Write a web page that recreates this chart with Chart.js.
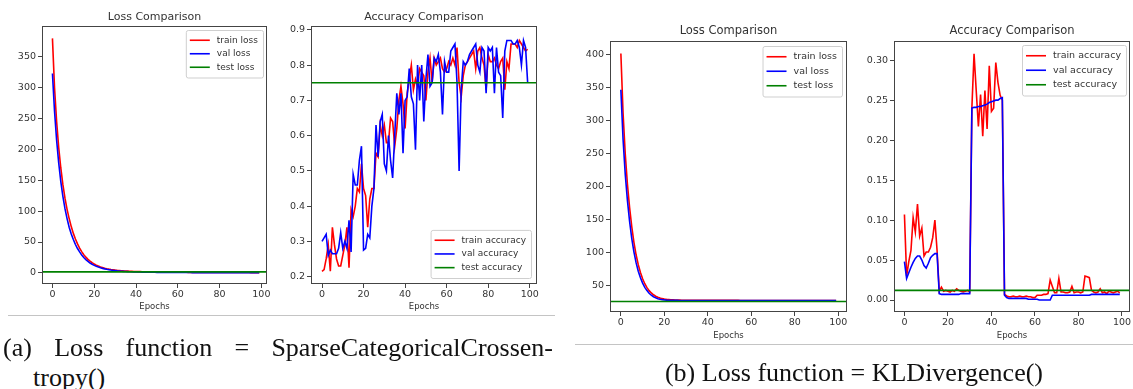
<!DOCTYPE html>
<html>
<head>
<meta charset="utf-8">
<script src="https://cdn.jsdelivr.net/npm/chart.js@4.4.1/dist/chart.umd.min.js"></script>
<style>
  body { margin: 0; background: #fff; width: 1133px; height: 389px; overflow: hidden; position: relative; }
  canvas { position: absolute; }
  .sep { position: absolute; height: 1px; background: #c4c4c4; }
  .cap { position: absolute; font: 26px "Liberation Serif", serif; color: #111; line-height: 30px; white-space: nowrap; }
</style>
</head>
<body>
<canvas id="aLoss" width="290" height="318" style="left:0px;top:0px"></canvas>
<canvas id="aAcc" width="275" height="318" style="left:290px;top:0px"></canvas>
<canvas id="bLoss" width="295" height="345" style="left:565px;top:0px"></canvas>
<canvas id="bAcc" width="273" height="345" style="left:860px;top:0px"></canvas>

<div class="sep" style="left:8px;top:315px;width:547px"></div>
<div class="sep" style="left:575px;top:344px;width:558px"></div>

<div class="cap" style="left:3px;top:333px;width:550px;text-align:justify;text-align-last:justify">(a) Loss function = SparseCategoricalCrossen-</div>
<div class="cap" style="left:33px;top:363px">tropy()</div>
<div class="cap" style="left:575px;top:358px;width:558px;text-align:center">(b) Loss function = KLDivergence()</div>

<script>
// tick values
var X_TICKS = [0, 20, 40, 60, 80, 100];
var A_LOSS_TICKS = [0, 50, 100, 150, 200, 250, 300, 350];
var A_ACC_TICKS = [0.2, 0.3, 0.4, 0.5, 0.6, 0.7, 0.8, 0.9];
var B_LOSS_TICKS = [50, 100, 150, 200, 250, 300, 350, 400];
var B_ACC_TICKS = [0.00, 0.05, 0.10, 0.15, 0.20, 0.25, 0.30];

// (a) SparseCategoricalCrossentropy
var A_TRAIN_LOSS = [380, 300, 245, 203, 170, 143, 121, 103, 88, 75,
    64, 55, 47, 40, 34.5, 29.5, 25.5, 22, 19, 16.5,
    14.3, 12.5, 11, 9.7, 8.6, 7.6, 6.8, 6.1, 5.5, 5.0,
    4.5, 4.1, 3.8, 3.5, 3.2, 3.0, 2.8, 2.6, 2.45, 2.3,
    2.2, 2.1, 2.0, 1.9, 1.8, 1.75, 1.7, 1.6, 1.55, 1.5,
    1.45, 1.4, 1.35, 1.3, 1.25, 1.2, 1.2, 1.15, 1.1, 1.1,
    1.05, 1.0, 1.0, 0.95, 0.95, 0.9, 0.9, 0.9, 0.85, 0.85,
    0.85, 0.8, 0.8, 0.8, 0.75, 0.75, 0.75, 0.7, 0.7, 0.7,
    0.7, 0.65, 0.65, 0.65, 0.65, 0.6, 0.6, 0.6, 0.6, 0.6,
    0.55, 0.55, 0.55, 0.55, 0.55, 0.5, 0.5, 0.5, 0.5, 0.5];
var A_VAL_LOSS = [323, 262, 215, 178, 148, 124, 104, 88, 74, 63,
    54, 46, 39.5, 34, 29, 25, 21.5, 18.6, 16, 14,
    12.2, 10.7, 9.4, 8.3, 7.3, 6.5, 5.8, 5.2, 4.6, 4.1,
    3.7, 3.3, 3.0, 2.7, 2.5, 2.3, 2.1, 1.95, 1.8, 1.65,
    1.55, 1.45, 1.35, 1.3, 1.2, 1.15, 1.1, 1.05, 1.0, 0.95,
    0.9, 0.9, 0.85, 0.8, 0.8, 0.75, 0.75, 0.7, 0.7, 0.65,
    0.65, 0.6, 0.6, 0.6, 0.55, 0.55, 0.55, 0.5, 0.5, 0.5,
    0.5, 0.45, 0.45, 0.45, 0.45, 0.4, 0.4, 0.4, 0.4, 0.4,
    0.35, 0.35, 0.35, 0.35, 0.35, 0.35, 0.3, 0.3, 0.3, 0.3,
    0.3, 0.3, 0.3, 0.3, 0.25, 0.25, 0.25, 0.25, 0.25, 0.25];
var A_TEST_LOSS = 1.6;

var A_TRAIN_ACC = [0.215, 0.22, 0.25, 0.29, 0.215, 0.34, 0.29, 0.25, 0.23, 0.23,
    0.26, 0.29, 0.34, 0.225, 0.39, 0.37, 0.40, 0.45, 0.44, 0.52,
    0.45, 0.43, 0.34, 0.42, 0.45, 0.45, 0.55, 0.54, 0.63, 0.60,
    0.63, 0.58, 0.58, 0.65, 0.64, 0.57, 0.62, 0.70, 0.74, 0.69,
    0.62, 0.72, 0.76, 0.80, 0.73, 0.76, 0.74, 0.79, 0.78, 0.77,
    0.70, 0.78, 0.82, 0.75, 0.82, 0.80, 0.81, 0.82, 0.79, 0.78,
    0.79, 0.81, 0.80, 0.82, 0.80, 0.85, 0.75, 0.71, 0.77, 0.80,
    0.81, 0.82, 0.83, 0.84, 0.79, 0.84, 0.85, 0.82, 0.80, 0.73,
    0.83, 0.81, 0.81, 0.82, 0.80, 0.79, 0.81, 0.82, 0.73, 0.81,
    0.79, 0.86, 0.86, 0.86, 0.85, 0.87, 0.86, 0.85, 0.84, 0.845];
var A_VAL_ACC = [0.30, 0.31, 0.32, 0.26, 0.275, 0.265, 0.265, 0.265, 0.28, 0.325,
    0.28, 0.30, 0.28, 0.36, 0.27, 0.49, 0.46, 0.46, 0.53, 0.57,
    0.275, 0.28, 0.32, 0.31, 0.40, 0.45, 0.63, 0.54, 0.64, 0.66,
    0.52, 0.50, 0.60, 0.53, 0.48, 0.60, 0.72, 0.66, 0.72, 0.55,
    0.70, 0.71, 0.79, 0.71, 0.69, 0.56, 0.80, 0.70, 0.80, 0.64,
    0.76, 0.83, 0.74, 0.75, 0.82, 0.81, 0.83, 0.78, 0.66, 0.81,
    0.78, 0.78, 0.84, 0.85, 0.86, 0.75, 0.50, 0.73, 0.81, 0.80,
    0.81, 0.83, 0.84, 0.85, 0.86, 0.80, 0.78, 0.85, 0.84, 0.72,
    0.85, 0.84, 0.85, 0.72, 0.85, 0.78, 0.77, 0.65, 0.84, 0.87,
    0.87, 0.87, 0.86, 0.86, 0.87, 0.85, 0.80, 0.87, 0.85, 0.75];
var A_TEST_ACC = 0.75;

// (b) KLDivergence
var B_TRAIN_LOSS = [402, 312, 250, 204, 168, 139, 115, 96, 81, 69,
    59.5, 52, 46, 41.5, 38, 35.2, 33, 31.4, 30.2, 29.3,
    28.7, 28.2, 27.9, 27.6, 27.4, 27.2, 27.1, 27.0, 26.9, 26.9,
    26.8, 26.8, 26.8, 26.7, 26.7, 26.7, 26.7, 26.7, 26.6, 26.6,
    26.6, 26.6, 26.6, 26.6, 26.6, 26.6, 26.6, 26.6, 26.6, 26.6,
    26.6, 26.6, 26.6, 26.6, 26.6, 26.5, 26.5, 26.5, 26.5, 26.5,
    26.5, 26.5, 26.5, 26.5, 26.5, 26.5, 26.5, 26.5, 26.5, 26.5,
    26.5, 26.5, 26.5, 26.5, 26.5, 26.5, 26.5, 26.5, 26.5, 26.5,
    26.5, 26.5, 26.5, 26.5, 26.5, 26.5, 26.5, 26.5, 26.5, 26.5,
    26.5, 26.5, 26.5, 26.5, 26.5, 26.5, 26.5, 26.5, 26.5, 26.5];
var B_VAL_LOSS = [347, 272, 219, 179, 147, 121, 100.5, 84, 71, 61,
    53, 46.5, 41.5, 37.5, 34.5, 32.2, 30.5, 29.3, 28.4, 27.8,
    27.4, 27.1, 26.9, 26.8, 26.7, 26.6, 26.6, 26.5, 26.5, 26.5,
    26.5, 26.5, 26.5, 26.5, 26.5, 26.5, 26.5, 26.5, 26.5, 26.5,
    26.5, 26.5, 26.5, 26.5, 26.5, 26.5, 26.5, 26.5, 26.5, 26.5,
    26.4, 26.4, 26.4, 26.4, 26.4, 26.4, 26.4, 26.4, 26.4, 26.4,
    26.4, 26.4, 26.4, 26.4, 26.4, 26.4, 26.4, 26.4, 26.4, 26.4,
    26.4, 26.4, 26.4, 26.4, 26.4, 26.4, 26.4, 26.4, 26.4, 26.4,
    26.4, 26.4, 26.4, 26.4, 26.4, 26.4, 26.4, 26.4, 26.4, 26.4,
    26.4, 26.4, 26.4, 26.4, 26.4, 26.4, 26.4, 26.4, 26.4, 26.4];
var B_TEST_LOSS = 25;

var B_TRAIN_ACC = [0.107, 0.030, 0.048, 0.062, 0.103, 0.085, 0.120, 0.080, 0.090, 0.055,
    0.060, 0.060, 0.066, 0.078, 0.100, 0.062, 0.011, 0.016, 0.011, 0.012,
    0.011, 0.010, 0.012, 0.011, 0.014, 0.012, 0.011, 0.010, 0.011, 0.012,
    0.010, 0.240, 0.308, 0.262, 0.217, 0.257, 0.205, 0.262, 0.214, 0.293,
    0.236, 0.240, 0.297, 0.272, 0.256, 0.250, 0.007, 0.005, 0.004, 0.004,
    0.005, 0.004, 0.004, 0.005, 0.004, 0.004, 0.005, 0.004, 0.004, 0.003,
    0.003, 0.006, 0.006, 0.006, 0.007, 0.007, 0.008, 0.025, 0.017, 0.009,
    0.009, 0.027, 0.010, 0.010, 0.009, 0.009, 0.010, 0.017, 0.009, 0.010,
    0.010, 0.009, 0.010, 0.030, 0.029, 0.028, 0.012, 0.010, 0.009, 0.010,
    0.014, 0.009, 0.010, 0.008, 0.011, 0.010, 0.009, 0.010, 0.011, 0.009];
var B_VAL_ACC = [0.048, 0.027, 0.034, 0.041, 0.047, 0.052, 0.055, 0.055, 0.050, 0.043,
    0.040, 0.046, 0.053, 0.056, 0.058, 0.058, 0.008, 0.007, 0.007, 0.007,
    0.007, 0.007, 0.007, 0.007, 0.007, 0.007, 0.008, 0.008, 0.008, 0.008,
    0.008, 0.240, 0.241, 0.241, 0.242, 0.242, 0.243, 0.244, 0.245, 0.247,
    0.248, 0.249, 0.250, 0.250, 0.252, 0.253, 0.006, 0.003, 0.002, 0.002,
    0.002, 0.002, 0.002, 0.002, 0.002, 0.002, 0.002, 0.001, 0.001, 0.001,
    0.001, 0.001, 0.000, 0.000, 0.000, 0.000, 0.000, 0.000, 0.006, 0.006,
    0.006, 0.006, 0.006, 0.006, 0.006, 0.006, 0.006, 0.006, 0.006, 0.006,
    0.006, 0.006, 0.006, 0.006, 0.006, 0.006, 0.007, 0.007, 0.007, 0.007,
    0.007, 0.007, 0.007, 0.007, 0.007, 0.007, 0.007, 0.007, 0.007, 0.007];
var B_TEST_ACC = 0.012;

var TICK_FONT = { family: "DejaVu Sans", size: 9.5 };
var TEXT_COLOR = "#333";

// frame, title and in-axes legend, drawn like matplotlib
var framePlugin = {
    id: "frame",
    afterDraw: function (chart, args, opts) {
        var ctx = chart.ctx, a = chart.chartArea;
        ctx.save();
        ctx.strokeStyle = "#444";
        ctx.lineWidth = 1;
        ctx.strokeRect(Math.round(a.left) + 0.5, Math.round(a.top) + 0.5,
            Math.round(a.right - a.left) - 1, Math.round(a.bottom - a.top) - 1);

        ctx.fillStyle = TEXT_COLOR;
        ctx.font = opts.titleSize + "px 'DejaVu Sans'";
        ctx.textAlign = "center";
        ctx.textBaseline = "middle";
        ctx.fillText(opts.title, (a.left + a.right) / 2, a.top - opts.titleGap);

        // legend
        var sets = chart.data.datasets;
        ctx.font = opts.legendSize + "px 'DejaVu Sans'";
        var maxW = 0;
        sets.forEach(function (d) { maxW = Math.max(maxW, ctx.measureText(d.label).width); });
        var w = 4 + 20 + 7 + maxW + 5;
        var h = sets.length * opts.rowH + 7;
        var x = a.right - opts.offset - w;
        var y = opts.corner === "ur" ? a.top + opts.offset : a.bottom - opts.offset - h;
        ctx.fillStyle = "rgba(255,255,255,0.85)";
        ctx.strokeStyle = "#cfcfcf";
        ctx.beginPath();
        ctx.roundRect(x + 0.5, y + 0.5, w, h, 2);
        ctx.fill();
        ctx.stroke();
        ctx.textAlign = "left";
        sets.forEach(function (d, i) {
            var cy = y + 3.5 + opts.rowH * (i + 0.5);
            ctx.strokeStyle = d.borderColor;
            ctx.lineWidth = 1.6;
            ctx.beginPath();
            ctx.moveTo(x + 4, cy);
            ctx.lineTo(x + 24, cy);
            ctx.stroke();
            ctx.fillStyle = TEXT_COLOR;
            ctx.fillText(d.label, x + 31, cy);
        });
        ctx.restore();
    }
};

function toPoints(arr) {
    return arr.map(function (v, i) { return { x: i, y: v }; });
}

function makePanel(id, p) {
    var line = { borderWidth: 1.6, pointRadius: 0, fill: false, tension: 0 };
    new Chart(document.getElementById(id), {
        type: "line",
        data: {
            datasets: [
                Object.assign({ label: p.labels[0], data: toPoints(p.train), borderColor: "#ff0000", order: 2 }, line),
                Object.assign({ label: p.labels[1], data: toPoints(p.val), borderColor: "#0000ff", order: 1 }, line),
                Object.assign({ label: p.labels[2], data: [{ x: p.xMin, y: p.test }, { x: p.xMax, y: p.test }], borderColor: "#008000", order: 0 }, line)
            ]
        },
        options: {
            responsive: false,
            animation: false,
            layout: { padding: p.padding },
            plugins: {
                legend: { display: false },
                tooltip: { enabled: false },
                frame: p.frame
            },
            scales: {
                x: {
                    type: "linear",
                    min: p.xMin,
                    max: p.xMax,
                    afterFit: function (s) { s.height = p.xHeight; },
                    afterBuildTicks: function (s) { s.ticks = X_TICKS.map(function (v) { return { value: v }; }); },
                    ticks: { font: TICK_FONT, color: TEXT_COLOR, padding: 1, maxRotation: 0, autoSkip: false },
                    grid: { drawOnChartArea: false, tickLength: 4, color: "#444" },
                    border: { display: false },
                    title: { display: true, text: "Epochs", color: TEXT_COLOR, font: { family: "DejaVu Sans", size: 8.5 }, padding: { top: 0, bottom: p.epochsPad } }
                },
                y: {
                    min: p.yMin,
                    max: p.yMax,
                    afterFit: function (s) { s.width = p.yWidth; },
                    afterBuildTicks: function (s) { s.ticks = p.yTicks.map(function (v) { return { value: v }; }); },
                    ticks: {
                        font: TICK_FONT, color: TEXT_COLOR, padding: 2, autoSkip: false,
                        callback: function (v) { return v.toFixed(p.decimals); }
                    },
                    grid: { drawOnChartArea: false, tickLength: 4, color: "#444" },
                    border: { display: false }
                }
            }
        },
        plugins: [framePlugin]
    });
}

makePanel("aLoss", {
    train: A_TRAIN_LOSS, val: A_VAL_LOSS, test: A_TEST_LOSS,
    labels: ["train loss", "val loss", "test loss"],
    xMin: -5, xMax: 102.7, yMin: -18, yMax: 400, yTicks: A_LOSS_TICKS, decimals: 0,
    padding: { left: 0, top: 26, right: 23, bottom: 0 }, yWidth: 42, xHeight: 34, epochsPad: 6,
    frame: { title: "Loss Comparison", titleSize: 11, titleGap: 9, legendSize: 9, rowH: 13.5, corner: "ur", offset: 4 }
});
makePanel("aAcc", {
    train: A_TRAIN_ACC, val: A_VAL_ACC, test: A_TEST_ACC,
    labels: ["train accuracy", "val accuracy", "test accuracy"],
    xMin: -5.3, xMax: 103.5, yMin: 0.179, yMax: 0.911, yTicks: A_ACC_TICKS, decimals: 1,
    padding: { left: 0, top: 26, right: 28, bottom: 0 }, yWidth: 21, xHeight: 34, epochsPad: 6,
    frame: { title: "Accuracy Comparison", titleSize: 11, titleGap: 9, legendSize: 9, rowH: 13.7, corner: "lr", offset: 6 }
});
makePanel("bLoss", {
    train: B_TRAIN_LOSS, val: B_VAL_LOSS, test: B_TEST_LOSS,
    labels: ["train loss", "val loss", "test loss"],
    xMin: -5, xMax: 104, yMin: 9, yMax: 421, yTicks: B_LOSS_TICKS, decimals: 0,
    padding: { left: 0, top: 41, right: 13, bottom: 0 }, yWidth: 45, xHeight: 33, epochsPad: 4,
    frame: { title: "Loss Comparison", titleSize: 11.5, titleGap: 10, legendSize: 9.5, rowH: 14.5, corner: "ur", offset: 5 }
});
makePanel("bAcc", {
    train: B_TRAIN_ACC, val: B_VAL_ACC, test: B_TEST_ACC,
    labels: ["train accuracy", "val accuracy", "test accuracy"],
    xMin: -4.8, xMax: 103.7, yMin: -0.015, yMax: 0.324, yTicks: B_ACC_TICKS, decimals: 2,
    padding: { left: 0, top: 41, right: 3, bottom: 0 }, yWidth: 34, xHeight: 33, epochsPad: 4,
    frame: { title: "Accuracy Comparison", titleSize: 11.5, titleGap: 10, legendSize: 9.5, rowH: 14.5, corner: "ur", offset: 4 }
});
</script>
</body>
</html>
